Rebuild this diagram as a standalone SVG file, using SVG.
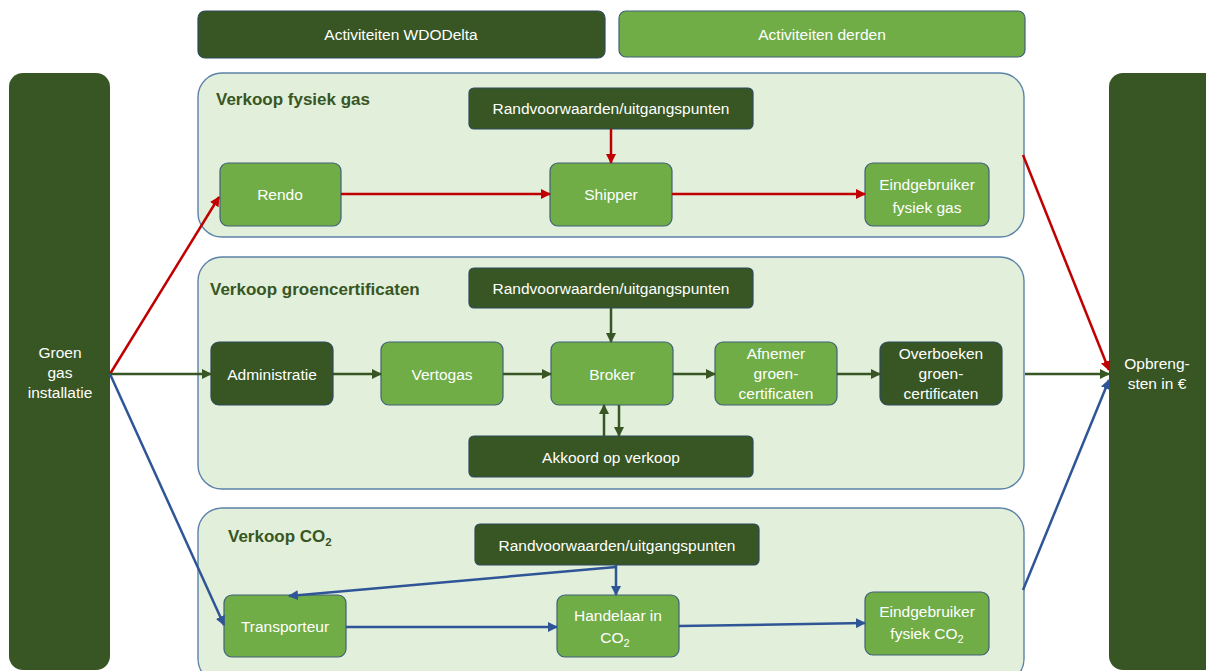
<svg xmlns="http://www.w3.org/2000/svg" width="1206" height="671" viewBox="0 0 1206 671">
<defs>
<style>
.dk{fill:#375623;stroke:#2e4a5e;stroke-width:1.2}
.lt{fill:#70AD47;stroke:#41607a;stroke-width:1.2}
.sec{fill:#E2EFDA;stroke:#5B82A8;stroke-width:1.4}
.col{fill:#375623}
text{font-family:"Liberation Sans",Arial,sans-serif;font-size:15.5px;fill:#ffffff;text-anchor:middle}
.ttl{font-weight:bold;font-size:17px;fill:#375623;text-anchor:start}
.r{stroke:#C00000;stroke-width:2.5;fill:none}
.g{stroke:#375623;stroke-width:2.5;fill:none}
.b{stroke:#2F5597;stroke-width:2.5;fill:none}
</style>
<marker id="mr" viewBox="0 0 10 10" refX="9" refY="5" markerWidth="4" markerHeight="4" orient="auto"><path d="M0,0 L10,5 L0,10 z" fill="#C00000"/></marker>
<marker id="mg" viewBox="0 0 10 10" refX="9" refY="5" markerWidth="4" markerHeight="4" orient="auto"><path d="M0,0 L10,5 L0,10 z" fill="#375623"/></marker>
<marker id="mb" viewBox="0 0 10 10" refX="9" refY="5" markerWidth="4" markerHeight="4" orient="auto"><path d="M0,0 L10,5 L0,10 z" fill="#2F5597"/></marker>
</defs>
<rect width="1206" height="671" fill="#ffffff"/>

<g id="legend-wdodelta"><rect class="dk" x="198" y="11" width="407" height="47" rx="7"/><text x="401" y="40">Activiteiten WDODelta</text></g>
<g id="legend-derden"><rect class="lt" x="619" y="11" width="406" height="46" rx="7"/><text x="822" y="40">Activiteiten derden</text></g>

<g id="groen-gas-installatie"><rect class="col" x="9" y="73" width="101" height="597" rx="14"/>
<text x="60" y="358">Groen</text><text x="60" y="378">gas</text><text x="60" y="398">installatie</text></g>
<g id="opbrengsten"><rect class="col" x="1109" y="73" width="110" height="597" rx="14"/>
<text x="1157" y="369">Opbreng-</text><text x="1157" y="389">sten in €</text></g>

<g id="sec-fysiek-gas"><rect class="sec" x="198" y="73" width="826" height="164" rx="24"/><text class="ttl" x="216" y="105">Verkoop fysiek gas</text></g>
<g id="sec-groencertificaten"><rect class="sec" x="198" y="257" width="826" height="232" rx="24"/><text class="ttl" x="210" y="295">Verkoop groencertificaten</text></g>
<g id="sec-co2"><rect class="sec" x="198" y="508" width="826" height="175" rx="24"/><text class="ttl" x="228" y="542">Verkoop CO<tspan font-size="11.5" dy="4">2</tspan></text></g>

<g id="rand1"><rect class="dk" x="469" y="88" width="284" height="41" rx="5"/><text x="611" y="114">Randvoorwaarden/uitgangspunten</text></g>
<g id="rendo"><rect class="lt" x="220" y="163" width="121" height="63" rx="8"/><text x="280" y="200">Rendo</text></g>
<g id="shipper"><rect class="lt" x="550" y="163" width="122" height="63" rx="8"/><text x="611" y="200">Shipper</text></g>
<g id="eind-gas"><rect class="lt" x="865" y="163" width="124" height="63" rx="8"/><text x="927" y="190">Eindgebruiker</text><text x="927" y="213">fysiek gas</text></g>

<g id="rand2"><rect class="dk" x="469" y="268" width="284" height="40" rx="5"/><text x="611" y="294">Randvoorwaarden/uitgangspunten</text></g>
<g id="administratie"><rect class="dk" x="211" y="342" width="122" height="63" rx="8"/><text x="272" y="380">Administratie</text></g>
<g id="vertogas"><rect class="lt" x="381" y="342" width="122" height="63" rx="8"/><text x="442" y="380">Vertogas</text></g>
<g id="broker"><rect class="lt" x="551" y="342" width="122" height="63" rx="8"/><text x="612" y="380">Broker</text></g>
<g id="afnemer"><rect class="lt" x="715" y="342" width="122" height="63" rx="8"/><text x="776" y="359">Afnemer</text><text x="776" y="379">groen-</text><text x="776" y="399">certificaten</text></g>
<g id="overboeken"><rect class="dk" x="880" y="342" width="122" height="63" rx="8"/><text x="941" y="359">Overboeken</text><text x="941" y="379">groen-</text><text x="941" y="399">certificaten</text></g>
<g id="akkoord"><rect class="dk" x="469" y="436" width="284" height="41" rx="5"/><text x="611" y="463">Akkoord op verkoop</text></g>

<g id="rand3"><rect class="dk" x="475" y="524" width="284" height="41" rx="5"/><text x="617" y="551">Randvoorwaarden/uitgangspunten</text></g>
<g id="transporteur"><rect class="lt" x="224" y="595" width="122" height="62" rx="8"/><text x="285" y="632">Transporteur</text></g>
<g id="handelaar"><rect class="lt" x="557" y="595" width="122" height="62" rx="8"/><text x="618" y="621">Handelaar in</text><text x="615" y="643">CO<tspan font-size="11" dy="4">2</tspan></text></g>
<g id="eind-co2"><rect class="lt" x="865" y="592" width="124" height="63" rx="8"/><text x="927" y="617">Eindgebruiker</text><text x="927" y="639">fysiek CO<tspan font-size="11" dy="4">2</tspan></text></g>

<g id="connectors">
<path class="r" d="M110,374 L219,197" marker-end="url(#mr)"/>
<path class="r" d="M341,194 L550,194" marker-end="url(#mr)"/>
<path class="r" d="M672,194 L865,194" marker-end="url(#mr)"/>
<path class="r" d="M611,129 L611,163" marker-end="url(#mr)"/>
<path class="r" d="M1023,155 L1109,370" marker-end="url(#mr)"/>

<path class="g" d="M110,374 L211,374" marker-end="url(#mg)"/>
<path class="g" d="M333,374 L381,374" marker-end="url(#mg)"/>
<path class="g" d="M503,374 L551,374" marker-end="url(#mg)"/>
<path class="g" d="M673,374 L715,374" marker-end="url(#mg)"/>
<path class="g" d="M837,374 L880,374" marker-end="url(#mg)"/>
<path class="g" d="M1025,374 L1109,374" marker-end="url(#mg)"/>
<path class="g" d="M611,308 L611,342" marker-end="url(#mg)"/>
<path class="g" d="M604,436 L604,405" marker-end="url(#mg)"/>
<path class="g" d="M619,405 L619,436" marker-end="url(#mg)"/>

<path class="b" d="M110,374 L224,625" marker-end="url(#mb)"/>
<path class="b" d="M346,627 L557,627" marker-end="url(#mb)"/>
<path class="b" d="M679,626 L865,623" marker-end="url(#mb)"/>
<path class="b" d="M616,565 L616,595" marker-end="url(#mb)"/>
<path class="b" d="M616,567 L289,596" marker-end="url(#mb)"/>
<path class="b" d="M1023,590 L1109,380" marker-end="url(#mb)"/>
</g>
</svg>
